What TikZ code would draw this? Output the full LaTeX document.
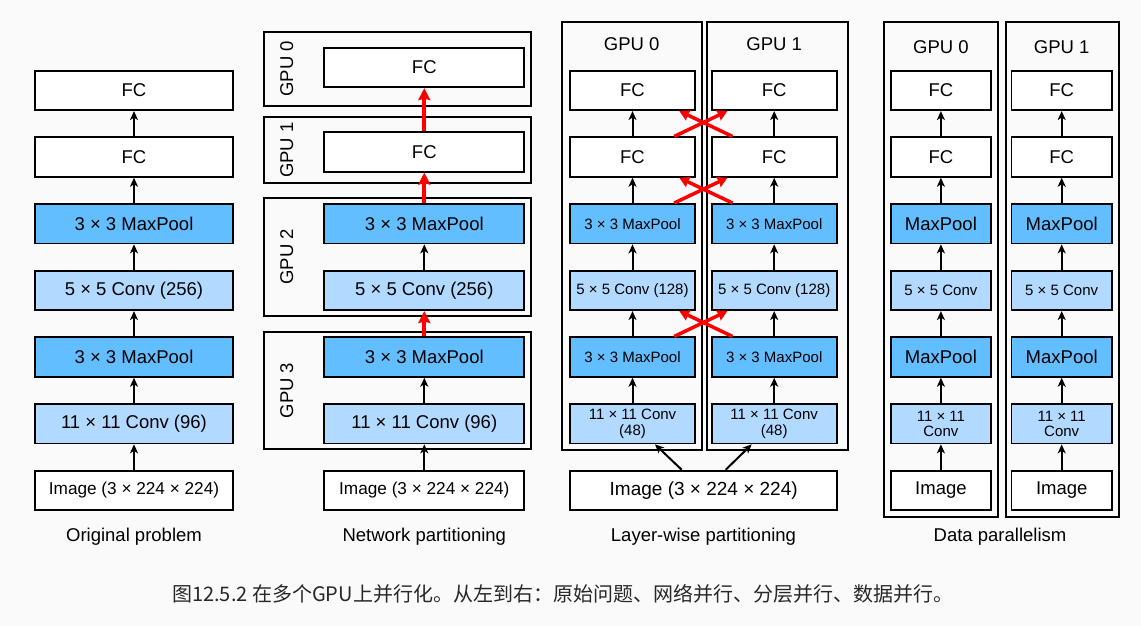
\documentclass[tikz,border=0pt]{standalone}
\usepackage{fontspec}
\setmainfont{Liberation Sans}
\newfontfamily\cjk{Noto Sans CJK SC}
\usetikzlibrary{arrows.meta,calc}
\definecolor{bgc}{RGB}{250,250,250}
\definecolor{poolc}{RGB}{99,190,255}
\definecolor{convc}{RGB}{178,217,255}
\definecolor{capc}{RGB}{40,40,40}
\definecolor{redc}{RGB}{255,0,0}
\begin{document}
\begin{tikzpicture}[x=1pt,y=-1pt,
  blk/.style={draw=black, line width=1.8pt, fill=white, inner sep=0pt, minimum height=39.5pt, align=center, font=\fontsize{18.5}{20}\selectfont},
  pool/.style={blk, fill=poolc},
  conv/.style={blk, fill=convc},
  small/.style={font=\fontsize{15}{15.5}\selectfont},
  frm/.style={draw=black, line width=1.8pt, inner sep=0pt},
  lbl/.style={font=\fontsize{18.5}{20}\selectfont, inner sep=0pt},
  capt/.style={font=\fontsize{18.5}{20}\selectfont, anchor=base, inner sep=0pt},
  arr/.style={-{Stealth[length=9pt,width=8pt,inset=2.5pt]}, line width=2pt},
  rarr/.style={draw=redc, line width=4pt, -{Stealth[length=12pt,width=12pt,inset=1.5pt]}},
  xarr/.style={draw=redc, line width=3.5pt, -{Stealth[length=10pt,width=11pt,inset=1pt]}}
]
\fill[bgc] (0,0) rectangle (1141,626);
\useasboundingbox (0,0) rectangle (1141,626);

% ---------- Column 1: Original problem
\begin{scope}[every node/.append style={minimum width=198pt}]
\node[blk]  (o1) at (134,90.4)  {FC};
\node[blk]  (o2) at (134,157.1) {FC};
\node[pool] (o3) at (134,223.7) {3 × 3 MaxPool};
\node[conv] (o4) at (134,290.4) {5 × 5 Conv (256)};
\node[pool] (o5) at (134,357.1) {3 × 3 MaxPool};
\node[conv] (o6) at (134,423.7) {11 × 11 Conv (96)};
\node[blk, font=\fontsize{17.2}{19}\selectfont] (o7) at (134,490.4) {Image (3 × 224 × 224)};
\end{scope}
\foreach \a/\b in {o7/o6,o6/o5,o5/o4,o4/o3,o3/o2,o2/o1}
  \draw[arr] (\a) -- (\b);
\node[capt] (c1) at (134,541) {Original problem};

% ---------- Column 2: Network partitioning
\node[frm, minimum width=266.7pt, minimum height=74.3pt]  (g0) at (397.3,68.8) {};
\node[frm, minimum width=266.7pt, minimum height=66.6pt]  (g1) at (397.3,150) {};
\node[frm, minimum width=266.7pt, minimum height=118pt]   (g2) at (397.3,256.7) {};
\node[frm, minimum width=266.7pt, minimum height=117.6pt] (g3) at (397.3,390.5) {};
\node[lbl, rotate=90] (g0l) at (286.7,68.8)  {GPU 0};
\node[lbl, rotate=90] (g1l) at (286.7,150)   {GPU 1};
\node[lbl, rotate=90] (g2l) at (286.7,256.7) {GPU 2};
\node[lbl, rotate=90] (g3l) at (286.7,390.5) {GPU 3};
\begin{scope}[every node/.append style={minimum width=200pt}]
\node[blk]  (n1) at (424.3,67.5)  {FC};
\node[blk]  (n2) at (424.3,152)   {FC};
\node[pool] (n3) at (424.3,223.7) {3 × 3 MaxPool};
\node[conv] (n4) at (424.3,290.4) {5 × 5 Conv (256)};
\node[pool] (n5) at (424.3,357.1) {3 × 3 MaxPool};
\node[conv] (n6) at (424.3,423.7) {11 × 11 Conv (96)};
\node[blk, font=\fontsize{17.2}{19}\selectfont] (n7) at (424.3,490.4) {Image (3 × 224 × 224)};
\end{scope}
\draw[arr] (n7) -- (n6);
\draw[arr] (n6) -- (n5);
\draw[arr] (n4) -- (n3);
\draw[rarr] (n5) -- (n4);
\draw[rarr] (n3) -- (n2);
\draw[rarr] (n2) -- (n1);
\node[capt] (c2) at (424.3,541) {Network partitioning};

% ---------- Column 3: Layer-wise partitioning
\node[frm, minimum width=140pt, minimum height=427.7pt] (la) at (631.7,236.2) {};
\node[frm, minimum width=140.4pt, minimum height=427.7pt] (lb) at (777.5,236.2) {};
\node[lbl] (lal) at (631.7,44) {GPU 0};
\node[lbl] (lbl) at (774.2,44) {GPU 1};
\foreach \s/\x in {a/632.5,b/774.2}{
  \begin{scope}[every node/.append style={minimum width=125pt}]
  \node[blk]  (l\s1) at (\x,90.4)  {FC};
  \node[blk]  (l\s2) at (\x,157.1) {FC};
  \node[pool, small] (l\s3) at (\x,223.7) {3 × 3 MaxPool};
  \node[conv, small] (l\s4) at (\x,290.4) {5 × 5 Conv (128)};
  \node[pool, small] (l\s5) at (\x,357.1) {3 × 3 MaxPool};
  \node[conv, small] (l\s6) at (\x,423.7) {11 × 11 Conv\\(48)};
  \end{scope}
  \draw[arr] (l\s6) -- (l\s5);
  \draw[arr] (l\s5) -- (l\s4);
  \draw[arr] (l\s4) -- (l\s3);
  \draw[arr] (l\s3) -- (l\s2);
  \draw[arr] (l\s2) -- (l\s1);
}
\node[blk, minimum width=267.3pt, font=\fontsize{19}{21}\selectfont] (limg) at (703.7,490.4) {Image (3 × 224 × 224)};
\draw[arr] ($(limg.north)+(-22,0)$) -- ($(la6.south)+(22.5,0)$);
\draw[arr] ($(limg.north)+(22,0)$) -- ($(lb6.south)+(-22.5,0)$);
\foreach \lo/\up in {3/2,2/1,5/4}{
  \draw[xarr] ($(la\lo.north east)+(-21.7,0)$) -- ($(lb\up.south west)+(16.6,0)$);
  \draw[xarr] ($(lb\lo.north west)+(21.7,0)$) -- ($(la\up.south east)+(-16.6,0)$);
}
\node[capt] (c3) at (703.5,541) {Layer-wise partitioning};

% ---------- Column 4: Data parallelism
\node[frm, minimum width=113.7pt, minimum height=494.4pt] (da) at (940.8,269.5) {};
\node[frm, minimum width=113.3pt, minimum height=494.4pt] (db) at (1062.7,269.5) {};
\node[lbl] (dal) at (940.9,47) {GPU 0};
\node[lbl] (dbl) at (1061.7,47) {GPU 1};
\foreach \s/\x in {a/940.9,b/1061.7}{
  \begin{scope}[every node/.append style={minimum width=100.3pt}]
  \node[blk]  (d\s1) at (\x,90.4)  {FC};
  \node[blk]  (d\s2) at (\x,157.1) {FC};
  \node[pool] (d\s3) at (\x,223.7) {MaxPool};
  \node[conv, small] (d\s4) at (\x,290.4) {5 × 5 Conv};
  \node[pool] (d\s5) at (\x,357.1) {MaxPool};
  \node[conv, font=\fontsize{15}{15}\selectfont] (d\s6) at (\x,423.7) {11 × 11\\Conv};
  \node[blk] (d\s7) at (\x,490.4) {Image};
  \end{scope}
  \draw[arr] (d\s7) -- (d\s6);
  \draw[arr] (d\s6) -- (d\s5);
  \draw[arr] (d\s5) -- (d\s4);
  \draw[arr] (d\s4) -- (d\s3);
  \draw[arr] (d\s3) -- (d\s2);
  \draw[arr] (d\s2) -- (d\s1);
}
\node[capt] (c4) at (1000,541) {Data parallelism};

% ---------- Figure caption
\node[anchor=west, inner sep=0pt, text=capc, font=\cjk\fontsize{20}{22}\selectfont] (fig) at (172,594) {图12.5.2 在多个GPU上并行化。从左到右：原始问题、网络并行、分层并行、数据并行。};
\end{tikzpicture}
\end{document}
